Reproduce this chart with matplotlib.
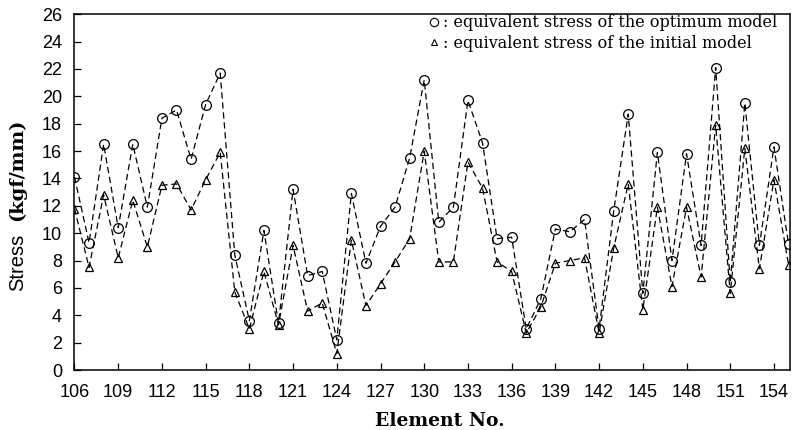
import matplotlib as mpl
mpl.use('Agg')
import matplotlib.pyplot as plt
from matplotlib.lines import Line2D
import numpy as np

elements = list(range(106, 156))

# optimum model (circles)
optimum = [14.1, 9.3, 16.5, 10.4, 16.5, 11.9, 18.4, 19.0, 15.4, 19.4,
           21.7, 8.4, 3.6, 10.2, 3.4, 13.2, 6.9, 7.2, 2.2, 12.9,
           7.8, 10.5, 11.9, 15.5, 21.2, 10.8, 11.9, 19.7, 16.6, 9.6,
           9.7, 3.0, 5.2, 10.3, 10.1, 11.0, 3.0, 11.6, 18.7, 5.6,
           15.9, 8.0, 15.8, 9.1, 22.1, 6.4, 19.5, 9.1, 16.3, 9.2]

# initial model (triangles)
initial = [11.8, 7.5, 12.8, 8.2, 12.4, 9.0, 13.5, 13.6, 11.7, 13.9,
           15.9, 5.7, 3.0, 7.2, 3.3, 9.1, 4.3, 4.9, 1.2, 9.5,
           4.7, 6.3, 7.9, 9.6, 16.0, 7.9, 7.9, 15.2, 13.3, 7.9,
           7.2, 2.7, 4.6, 7.8, 8.0, 8.2, 2.7, 8.9, 13.6, 4.4,
           11.9, 6.1, 11.9, 6.8, 17.9, 5.6, 16.2, 7.4, 13.9, 7.7]

xticks = list(range(106, 155, 3))
yticks = list(range(0, 27, 2))

fig = plt.figure(figsize=(7.95, 4.30), dpi=100)
ax = fig.add_axes([0.0937, 0.1395, 0.9, 0.8275])

ax.plot(elements, optimum, color='black', ls=(0, (5, 3)), lw=0.9,
        marker='o', ms=7, mfc='none', mec='black', mew=0.9)
ax.plot(elements, initial, color='black', ls=(0, (5, 3)), lw=0.9,
        marker='^', ms=6, mfc='none', mec='black', mew=0.9)

ax.set_xlim(106, 155.1)
ax.set_ylim(0, 26)
ax.set_xticks(xticks)
ax.set_yticks(yticks)
ax.tick_params(direction='in', length=5, width=0.9, labelsize=13)
ax.tick_params(axis='x', pad=10)
ax.tick_params(axis='y', pad=9)
for lab in ax.get_xticklabels() + ax.get_yticklabels():
    lab.set_family('Liberation Sans')
for s in ax.spines.values():
    s.set_linewidth(1.1)

ax.set_xlabel('Element No.', family='DejaVu Serif', weight='bold',
              fontsize=13.5, labelpad=9)
ax.xaxis.set_label_coords(0.51, -0.118)

# y label: "Stress" in sans, unit in bold serif
fig.text(0.022, 1 - 262 / 430, 'Stress', rotation=90, ha='center', va='center',
         family='Liberation Sans', fontsize=14.5)
fig.text(0.022, 1 - 170 / 430, '(kgf/mm)', rotation=90, ha='center', va='center',
         family='DejaVu Serif', weight='bold', fontsize=14)

handles = [Line2D([], [], ls='none', marker='o', ms=6, mfc='none', mec='black', mew=0.8),
           Line2D([], [], ls='none', marker='^', ms=5, mfc='none', mec='black', mew=0.8)]
labels = [': equivalent stress of the optimum model',
          ': equivalent stress of the initial model']
ax.legend(handles, labels, loc='upper left', bbox_to_anchor=(0.475, 1.04),
          frameon=False, handlelength=0.6, handletextpad=0.3,
          labelspacing=0.2, prop={'family': 'DejaVu Serif', 'size': 11.5})

fig.savefig('out.png', dpi=100)
